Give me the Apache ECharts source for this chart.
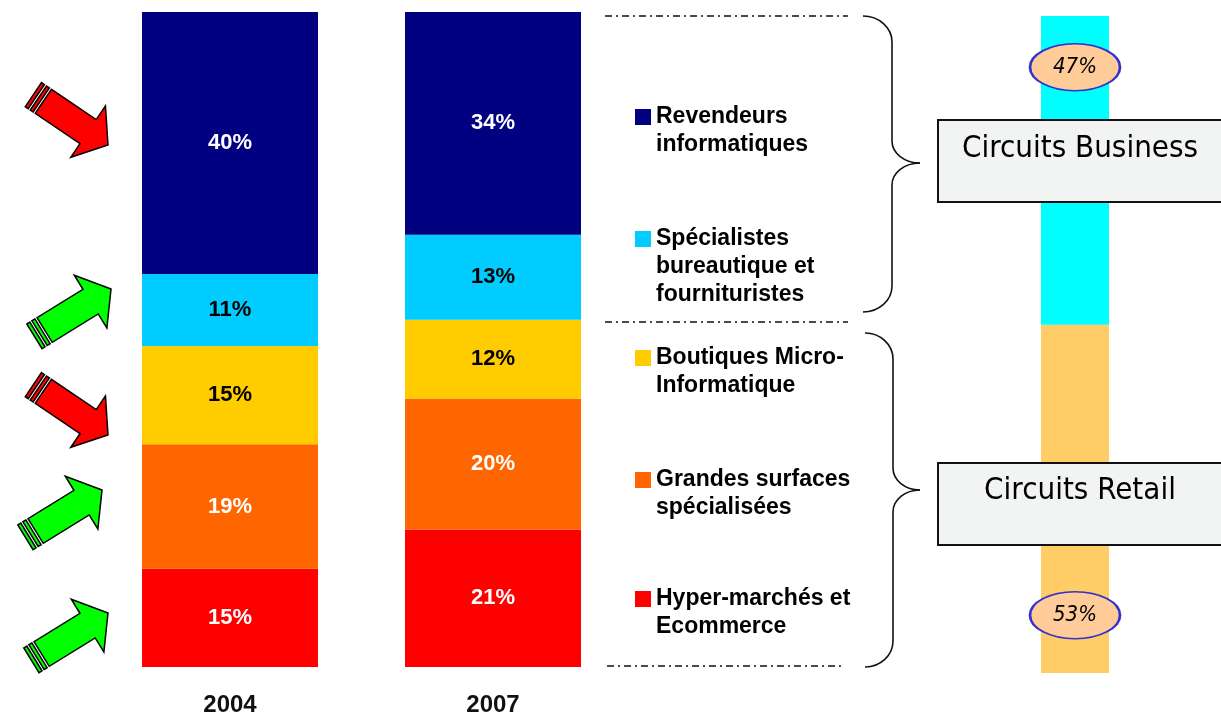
<!DOCTYPE html>
<html>
<head>
<meta charset="utf-8">
<script src="https://cdn.jsdelivr.net/npm/echarts@6/dist/echarts.min.js"></script>
<style>
  html, body { margin: 0; padding: 0; background: #fff; }
  #chart { width: 1221px; height: 717px; }
</style>
</head>
<body>
<div id="chart"></div>
<script>
// data
const years = ['2004', '2007'];
const hyperMarches = [15, 21];
const grandesSurfaces = [19, 20];
const boutiques = [15, 12];
const specialistes = [11, 13];
const revendeurs = [40, 34];

const circuitsCategory = ['Total'];
const circuitsRetail = [53];
const circuitsBusiness = [47];

const seriesNames = [
  'Hyper-marchés et Ecommerce',
  'Grandes surfaces spécialisées',
  'Boutiques Micro-Informatique',
  'Spécialistes bureautique et fournituristes',
  'Revendeurs informatiques'
];
const legendLines = {
  'Revendeurs informatiques': ['Revendeurs', 'informatiques'],
  'Spécialistes bureautique et fournituristes': ['Spécialistes', 'bureautique et', 'fournituristes'],
  'Boutiques Micro-Informatique': ['Boutiques Micro-', 'Informatique'],
  'Grandes surfaces spécialisées': ['Grandes surfaces', 'spécialisées'],
  'Hyper-marchés et Ecommerce': ['Hyper-marchés et', 'Ecommerce']
};
const boxTitles = ['Circuits Business', 'Circuits Retail'];

const chart = echarts.init(document.getElementById('chart'));

const segColors = ['#ff0000', '#ff6600', '#ffcc00', '#00ccff', '#000080'];
const labelColors = ['#fff', '#fff', '#000', '#000', '#fff'];
const segData = [hyperMarches, grandesSurfaces, boutiques, specialistes, revendeurs];

const mainSeries = seriesNames.map((name, i) => ({
  name: name,
  type: 'bar',
  stack: 'parts',
  barWidth: 176,
  xAxisIndex: 0,
  yAxisIndex: 0,
  itemStyle: { color: segColors[i] },
  label: {
    show: true,
    position: 'inside',
    formatter: '{c}%',
    color: labelColors[i],
    fontSize: 22,
    fontWeight: 'bold',
    fontFamily: 'Liberation Sans'
  },
  data: segData[i]
}));

// ellipse badge for the circuits bar
const ellipse = 'path://M0,25A50,25 0 1,1 100,25A50,25 0 1,1 0,25Z';
const badge = (coordY, v) => ({
  symbol: ellipse,
  symbolSize: [90, 47],
  itemStyle: { color: '#ffcc99', borderColor: '#3333cc', borderWidth: 2 },
  label: {
    show: true,
    formatter: (p) => p.value + '%',
    color: '#000',
    fontStyle: 'italic',
    fontSize: 22,
    fontFamily: 'DejaVu Sans Condensed'
  },
  data: [{ coord: ['Total', coordY], value: v }]
});

const circuitSeries = [
  {
    name: 'Circuits Retail',
    type: 'bar',
    stack: 'circuits',
    barWidth: '100%',
    xAxisIndex: 1,
    yAxisIndex: 1,
    itemStyle: { color: '#ffcc66' },
    markPoint: badge(8.8, circuitsRetail[0]),
    data: circuitsRetail
  },
  {
    name: 'Circuits Business',
    type: 'bar',
    stack: 'circuits',
    barWidth: '100%',
    xAxisIndex: 1,
    yAxisIndex: 1,
    itemStyle: { color: '#00ffff' },
    markPoint: badge(92.2, circuitsBusiness[0]),
    data: circuitsBusiness
  }
];

// one legend per item, icon lined up with the first text line
const legendCenters = [117, 239, 358, 480, 599];
const legendOrder = seriesNames.slice().reverse();
const legends = legendOrder.map((name, i) => {
  const n = legendLines[name].length;
  const lineH = 28;
  return {
    data: [name],
    left: 635,
    top: legendCenters[i] - (2 * n - 1) * lineH / 2,
    padding: 0,
    icon: 'rect',
    itemWidth: 16,
    itemHeight: 16,
    selectedMode: false,
    formatter: (nm) => '\n'.repeat(n - 1) + legendLines[nm].join('\n'),
    textStyle: {
      fontSize: 23,
      fontWeight: 'bold',
      fontFamily: 'Liberation Sans',
      color: '#000',
      lineHeight: lineH
    }
  };
});

// decorations
function arrow(tipX, tipY, angleDeg, color) {
  const a = angleDeg * Math.PI / 180, c = Math.cos(a), s = Math.sin(a);
  const tr = (pts) => pts.map(([x, y]) => [tipX + x * c - y * s, tipY + x * s + y * c]);
  const hw = 14.5;
  const parts = [
    [[0, 0], [-24, -31], [-24, -hw], [-78, -hw], [-78, hw], [-24, hw], [-24, 31]],
    [[-80.5, -hw], [-84, -hw], [-84, hw], [-80.5, hw]],
    [[-86.5, -hw], [-90, -hw], [-90, hw], [-86.5, hw]]
  ];
  return parts.map((p) => ({
    type: 'polygon',
    z: 5,
    shape: { points: tr(p) },
    style: { fill: color, stroke: '#000', lineWidth: 1.5 }
  }));
}

function brace(x0, xs, xt, y0, yt, y1) {
  const r = 26, q = 22, k = 0.552;
  const st = { stroke: '#111', lineWidth: 1.6, fill: null };
  const dx = xs - x0, dt = xt - xs;
  return [
    { type: 'bezierCurve', shape: { x1: x0, y1: y0, cpx1: x0 + k * dx, cpy1: y0, cpx2: xs, cpy2: y0 + r - k * r, x2: xs, y2: y0 + r }, style: st },
    { type: 'line', shape: { x1: xs, y1: y0 + r, x2: xs, y2: yt - q }, style: st },
    { type: 'bezierCurve', shape: { x1: xs, y1: yt - q, cpx1: xs, cpy1: yt - q + k * q, cpx2: xt - k * dt, cpy2: yt, x2: xt, y2: yt }, style: st },
    { type: 'bezierCurve', shape: { x1: xt, y1: yt, cpx1: xt - k * dt, cpy1: yt, cpx2: xs, cpy2: yt + q - k * q, x2: xs, y2: yt + q }, style: st },
    { type: 'line', shape: { x1: xs, y1: yt + q, x2: xs, y2: y1 - r }, style: st },
    { type: 'bezierCurve', shape: { x1: xs, y1: y1 - r, cpx1: xs, cpy1: y1 - r + k * r, cpx2: x0 + k * dx, cpy2: y1, x2: x0, y2: y1 }, style: st }
  ];
}

function dashLine(x1, x2, y) {
  return {
    type: 'line',
    shape: { x1: x1, y1: y, x2: x2, y2: y },
    style: { stroke: '#111', lineWidth: 1.6, lineDash: [7, 4, 2, 4] }
  };
}

function box(y, h, title, textY) {
  return [
    {
      type: 'rect',
      z: 10,
      shape: { x: 938, y: y, width: 300, height: h },
      style: { fill: '#f2f3f3', stroke: '#111', lineWidth: 2 }
    },
    {
      type: 'text',
      z: 11,
      style: {
        text: title,
        x: 1080,
        y: textY,
        align: 'center',
        verticalAlign: 'middle',
        textAlign: 'center',
        textVerticalAlign: 'middle',
        fontSize: 31,
        fontFamily: 'DejaVu Sans Condensed',
        fill: '#000'
      }
    }
  ];
}

const graphics = [].concat(
  arrow(108, 145, 34, '#ff0000'),
  arrow(111, 289, -31.7, '#00ff00'),
  arrow(108, 435, 34, '#ff0000'),
  arrow(102, 490, -31.7, '#00ff00'),
  arrow(108, 613, -31.7, '#00ff00'),
  [dashLine(605, 848, 16), dashLine(605, 848, 322), dashLine(607, 843, 666)],
  brace(863, 892, 920, 16, 163, 312),
  brace(865, 893, 920, 333, 490, 667),
  box(120, 82, boxTitles[0], 149),
  box(463, 82, boxTitles[1], 491)
);

const option = {
  animation: false,
  backgroundColor: '#fff',
  legend: legends,
  grid: [
    { left: 98.5, top: 12, width: 526, height: 656 },
    { left: 1041, top: 16, width: 68, height: 657 }
  ],
  xAxis: [
    {
      type: 'category',
      gridIndex: 0,
      data: years,
      axisLine: { show: false },
      axisTick: { show: false },
      axisLabel: {
        margin: 26,
        fontSize: 24,
        fontWeight: 'bold',
        fontFamily: 'Liberation Sans',
        color: '#111'
      }
    },
    {
      type: 'category',
      gridIndex: 1,
      data: circuitsCategory,
      show: false
    }
  ],
  yAxis: [
    { type: 'value', gridIndex: 0, min: 0, max: 100, show: false },
    { type: 'value', gridIndex: 1, min: 0, max: 100, show: false }
  ],
  graphic: { elements: graphics },
  series: mainSeries.concat(circuitSeries)
};

chart.setOption(option);
</script>
</body>
</html>
